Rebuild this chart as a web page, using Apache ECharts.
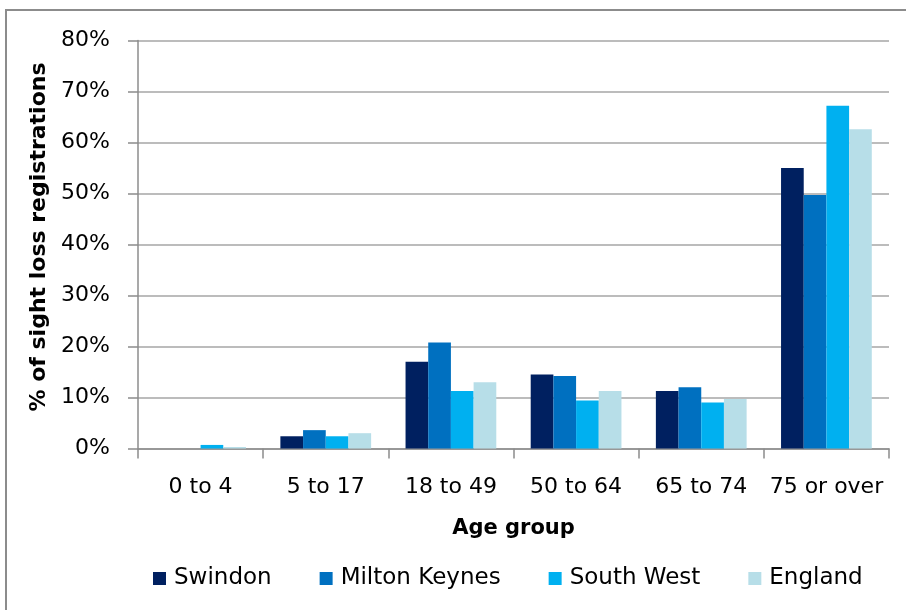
<!DOCTYPE html>
<html>
<head>
<meta charset="utf-8">
<script src="https://cdn.jsdelivr.net/npm/echarts@6/dist/echarts.min.js"></script>
<style>
  html, body { margin: 0; padding: 0; background: #ffffff; }
  #chart { width: 906px; height: 610px; }
</style>
</head>
<body>
<div id="chart"></div>
<script>
// Age bands on the category axis
const ageGroups = ['0 to 4', '5 to 17', '18 to 49', '50 to 64', '65 to 74', '75 or over'];

// Share of sight loss registrations (%) in each age band
const swindon      = [0,   2.4, 17.0, 14.5, 11.3, 55.0];
const miltonKeynes = [0,   3.6, 20.8, 14.2, 12.0, 49.7];
const southWest    = [0.7, 2.4, 11.3,  9.4,  9.0, 67.2];
const england      = [0.3, 3.0, 13.0, 11.3,  9.7, 62.6];

const seriesNames = ['Swindon', 'Milton Keynes', 'South West', 'England'];
const seriesData = [swindon, miltonKeynes, southWest, england];
const seriesColors = ['#002060', '#0070C0', '#00B0F0', '#B7DEE8'];

// Y axis ticks 0%..80% every 10%
const yMax = 80;
const yStep = 10;

const FONT = 'DejaVu Sans';
const chart = echarts.init(document.getElementById('chart'), null, { renderer: 'canvas' });

chart.setOption({
  animation: false,
  backgroundColor: '#ffffff',
  textStyle: { fontFamily: FONT },
  grid: { left: 138, right: 17, top: 40.6, bottom: 161.5, containLabel: false },
  legend: {
    data: seriesNames,
    left: 148,
    top: 562,
    itemWidth: 13,
    itemHeight: 13,
    itemGap: 48,
    icon: 'rect',
    textStyle: { fontFamily: FONT, fontSize: 23, color: '#000', padding: [0, 0, 0, 3] }
  },
  xAxis: {
    type: 'category',
    data: ageGroups,
    name: 'Age group',
    nameLocation: 'middle',
    nameGap: 70,
    nameTextStyle: { fontFamily: FONT, fontSize: 21, fontWeight: 'bold', color: '#000' },
    axisLine: { show: true, lineStyle: { color: '#8c8c8c', width: 1.5 } },
    axisTick: { show: true, length: 10, interval: 0, lineStyle: { color: '#8c8c8c', width: 1.5 } },
    axisLabel: { fontFamily: FONT, fontSize: 22, color: '#000', margin: 28, interval: 0 },
    splitLine: { show: false }
  },
  yAxis: {
    type: 'value',
    min: 0,
    max: yMax,
    interval: yStep,
    axisLine: { show: true, lineStyle: { color: '#8c8c8c', width: 1.5 } },
    axisTick: { show: true, length: 10, lineStyle: { color: '#8c8c8c', width: 1.5 } },
    axisLabel: { fontFamily: FONT, fontSize: 22, color: '#000', margin: 28, formatter: v => v + '%' },
    splitLine: { show: true, lineStyle: { color: '#a6a6a6', width: 1.5 } }
  },
  graphic: [
    {
      type: 'rect',
      shape: { x: 6, y: 10, width: 1000, height: 700 },
      style: { fill: 'none', stroke: '#8c8c8c', lineWidth: 2 },
      silent: true, z: 100
    },
    {
      type: 'text',
      x: 39, y: 237,
      rotation: Math.PI / 2,
      style: {
        text: '% of sight loss registrations',
        font: 'bold 22px "DejaVu Sans"',
        fill: '#000',
        align: 'center',
        verticalAlign: 'middle'
      }
    }
  ],
  series: seriesNames.map((name, i) => ({
    name,
    type: 'bar',
    data: seriesData[i],
    barGap: '0%',
    barCategoryGap: '27.5%',
    itemStyle: { color: seriesColors[i] }
  }))
});
</script>
</body>
</html>
